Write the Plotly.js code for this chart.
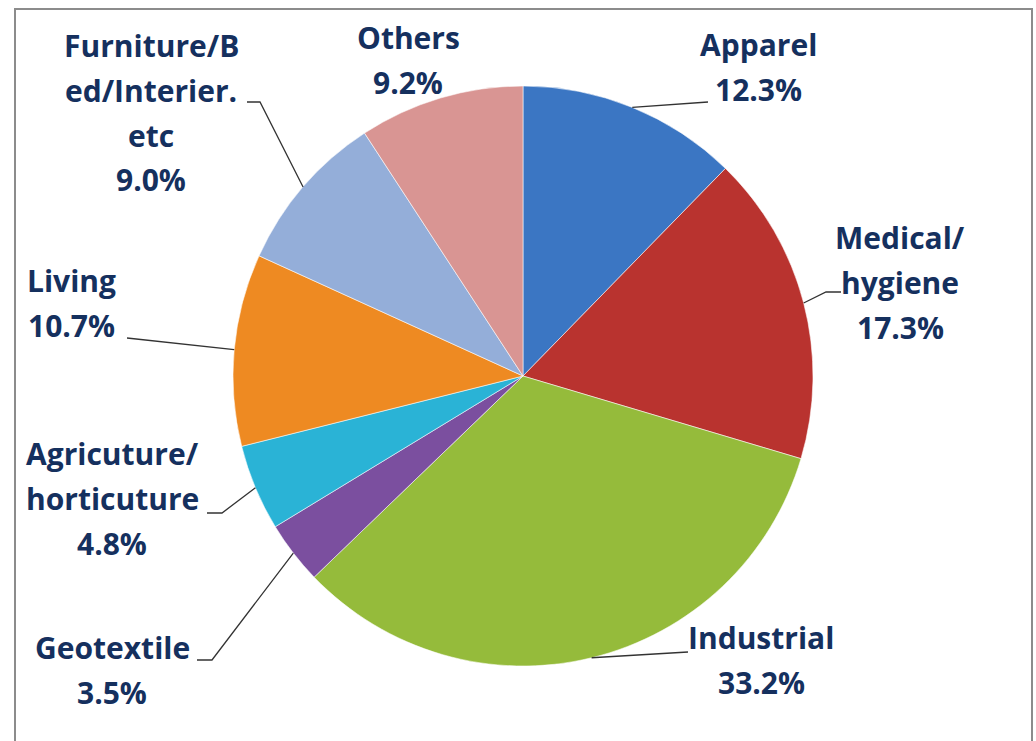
<!DOCTYPE html>
<html>
<head>
<meta charset="utf-8">
<script src="https://cdn.plot.ly/plotly-3.0.1.min.js"></script>
<style>html,body{margin:0;padding:0;background:#fff;}#chart{width:1036px;height:741px;}</style>
</head>
<body>
<div id="chart"></div>
<script>
// ---- data ----
const categories = ["Apparel", "Medical/hygiene", "Industrial", "Geotextile", "Agriculture/horticuture", "Living", "Furniture/Bed/Interier.etc", "Others"];
const shares = [12.3, 17.3, 33.2, 3.5, 4.8, 10.7, 9.0, 9.2];
const labelLines = [["Apparel"], ["Medical/", "hygiene"], ["Industrial"], ["Geotextile"], ["Agricuture/", "horticuture"], ["Living"], ["Furniture/B", "ed/Interier.", "etc"], ["Others"]];
const sliceColors = ["#3b76c3", "#b9332f", "#95bb3b", "#7b4f9f", "#2ab3d6", "#ee8a22", "#94aed9", "#d99593"];

// ---- layout (pixels) ----
const W = 1036, H = 741;
const cx = 523, cy = 376, R = 290;
const textColor = "#15305e";
const lineGap = 45;
// label block: center x, first-line center y, leader elbow points
const labelLayout = [
  {x: 758, y: 44, leader: [[708, 102]]},
  {x: 900, y: 238, leader: [[826, 292], [841, 292]]},
  {x: 761, y: 637, leader: [[688, 652]]},
  {x: 112, y: 647, leader: [[212, 660], [197, 660]]},
  {x: 112, y: 453, leader: [[222, 513], [207, 513]]},
  {x: 71, y: 280, leader: [[127, 338]]},
  {x: 151, y: 45, leader: [[260, 102], [247, 102]]},
  {x: 408, y: 37, leader: null}
];

const px = v => v / W;
const py = v => 1 - v / H;

const total = shares.reduce((a, b) => a + b, 0);
const annotations = [];
const shapes = [];
let cum = 0;
shares.forEach((s, i) => {
  const mid = (cum + s / 2) / total * 2 * Math.PI; // clockwise from 12 o'clock
  cum += s;
  const L = labelLayout[i];
  const lines = labelLines[i].concat([s.toFixed(1) + "%"]);
  lines.forEach((t, k) => {
    annotations.push({
      xref: "paper", yref: "paper", x: px(L.x), y: py(L.y + k * lineGap),
      xanchor: "center", yanchor: "middle", showarrow: false, text: t,
      font: {family: "Open Sans", size: 30, color: textColor, weight: 700}
    });
  });
  if (L.leader) {
    const ex = cx + R * Math.sin(mid), ey = cy - R * Math.cos(mid);
    let d = "M" + px(ex) + "," + py(ey);
    L.leader.forEach(p => { d += " L" + px(p[0]) + "," + py(p[1]); });
    shapes.push({type: "path", xref: "paper", yref: "paper", path: d, line: {color: "#333", width: 1.3}});
  }
});

// frame
shapes.push({type: "rect", xref: "paper", yref: "paper", x0: px(15), x1: px(1032), y0: -0.02, y1: py(9),
  line: {color: "#8c8c8c", width: 2}, layer: "below"});

const trace = {
  type: "pie",
  labels: categories,
  values: shares,
  sort: false,
  direction: "clockwise",
  rotation: 0,
  textinfo: "none",
  hoverinfo: "label+percent",
  marker: {colors: sliceColors, line: {color: "rgba(255,255,255,0.55)", width: 1}},
  domain: {x: [px(cx - R), px(cx + R)], y: [py(cy + R), py(cy - R)]},
  showlegend: false
};

Plotly.newPlot("chart", [trace], {
  width: W, height: H,
  margin: {l: 0, r: 0, t: 0, b: 0},
  paper_bgcolor: "#ffffff",
  showlegend: false,
  annotations: annotations,
  shapes: shapes
}, {displayModeBar: false, staticPlot: true});
</script>
</body>
</html>
